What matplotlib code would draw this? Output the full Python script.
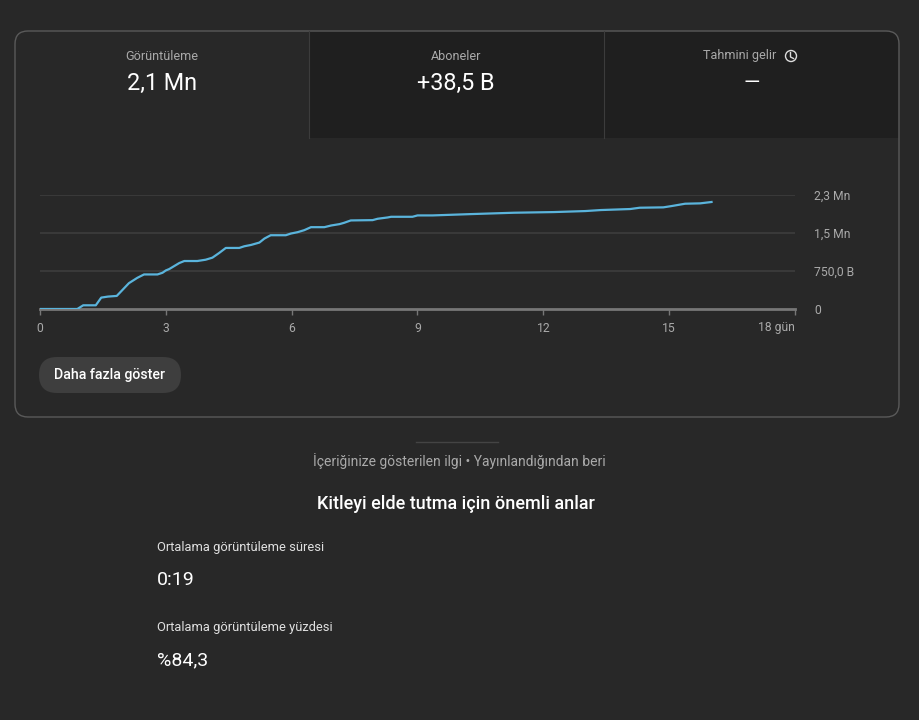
import matplotlib.pyplot as plt
from matplotlib.patches import FancyBboxPatch, Rectangle, Circle

plt.rcParams['font.family'] = ['Roboto', 'DejaVu Sans']

# Günlük kümülatif görüntüleme (bin)
gun = [0, 0.89, 1.03, 1.33, 1.46, 1.62, 1.83, 2.12, 2.32, 2.48, 2.8, 2.92, 3.0, 3.08,
       3.32, 3.44, 3.75, 3.95, 4.11, 4.27, 4.43, 4.75, 4.87, 5.03, 5.23, 5.35, 5.5,
       5.86, 5.98, 6.14, 6.3, 6.46, 6.78, 6.94, 7.14, 7.25, 7.41, 7.93, 8.05, 8.29,
       8.37, 8.88, 9.0, 9.36, 10.27, 11.3, 12.25, 13.0, 13.37, 14.07, 14.3, 14.86,
       15.06, 15.38, 15.74, 16.01]
goruntuleme = [0, 0, 73, 73, 225, 245, 258, 510, 615, 682, 682, 715, 761, 788,
               907, 947, 947, 973, 1013, 1105, 1205, 1205, 1238, 1264, 1311, 1390, 1456,
               1456, 1489, 1516, 1556, 1615, 1615, 1648, 1675, 1701, 1748, 1754, 1781, 1807,
               1820, 1820, 1847, 1847, 1873, 1900, 1913, 1933, 1953, 1973, 1999, 2006,
               2032, 2078, 2085, 2112]

x_ticks = [0, 3, 6, 9, 12, 15, 18]
x_labels = ['0', '3', '6', '9', '12', '15', '18 gün']
y_ticks = [0, 750, 1500, 2250]
y_labels = ['0', '750,0 B', '1,5 Mn', '2,3 Mn']

kart_basliklar = ['Görüntüleme', 'Aboneler', 'Tahmini gelir']
kart_degerler = ['2,1 Mn', '+38,5 B', '—']

BG = '#282828'
DARK = '#1f1f1f'
GRAY = '#aaaaaa'

fig = plt.figure(figsize=(9.2, 7.2), dpi=100, facecolor=BG)

# arka plan katmanı, piksel koordinatları
bg = fig.add_axes([0, 0, 1, 1])
bg.set_xlim(0, 920)
bg.set_ylim(720, 0)
bg.axis('off')

# koyu sekmeler
bg.add_patch(FancyBboxPatch((309, 31), 590, 107, boxstyle='round,pad=0,rounding_size=12',
                            facecolor=DARK, edgecolor='none'))
bg.add_patch(Rectangle((309, 60), 590, 78, facecolor=DARK, edgecolor='none'))
bg.add_patch(Rectangle((309, 31), 570, 40, facecolor=DARK, edgecolor='none'))
bg.plot([309, 309], [31, 138], color='#3c3c3c', lw=0.8)
bg.plot([604, 604], [31, 138], color='#3c3c3c', lw=0.8)

# kart çerçevesi
bg.add_patch(FancyBboxPatch((15, 31), 884, 386, boxstyle='round,pad=0,rounding_size=13',
                            facecolor='none', edgecolor='#5a5a5a', lw=1))

xs = [162, 456, 740]
for x, b in zip(xs, kart_basliklar):
    bg.text(x, 56, b, color=GRAY, fontsize=9.1, ha='center', va='center')
bg.text(162, 83, kart_degerler[0], color='white', fontsize=16.8, ha='center', va='center')
bg.text(456, 83, kart_degerler[1], color='white', fontsize=16.8, ha='center', va='center')
bg.text(752, 83, kart_degerler[2], color='white', fontsize=15, ha='center', va='center')

# saat simgesi
bg.add_patch(Circle((791, 56), 5.5, facecolor='none', edgecolor='#dddddd', lw=1))
bg.plot([790.5, 790.5, 793.5], [52.5, 57, 58.5], color='#dddddd', lw=1)

# buton
bg.add_patch(FancyBboxPatch((39, 357), 142, 36, boxstyle='round,pad=0,rounding_size=18',
                            facecolor='#3e3e3e', edgecolor='none'))
bg.text(110, 375.5, 'Daha fazla göster', color='white', fontsize=10.2, fontweight='medium',
        ha='center', va='center')

# alt bölüm
bg.plot([416, 498], [442, 442], color='#444444', lw=1)
bg.text(459, 461, 'İçeriğinize gösterilen ilgi • Yayınlandığından beri', color=GRAY,
        fontsize=10, ha='center', va='center')
bg.text(456, 504, 'Kitleyi elde tutma için önemli anlar', color='white', fontsize=13,
        fontweight='medium', ha='center', va='center')
bg.text(157, 548, 'Ortalama görüntüleme süresi', color='#e0e0e0', fontsize=9.3, ha='left', va='center')
bg.text(157, 580, '0:19', color='white', fontsize=14, ha='left', va='center')
bg.text(157, 628, 'Ortalama görüntüleme yüzdesi', color='#e0e0e0', fontsize=9.3, ha='left', va='center')
bg.text(157, 660, '%84,3', color='white', fontsize=14, ha='left', va='center')

# grafik
ax = fig.add_axes([40 / 920, (720 - 309) / 720, 755 / 920, 114 / 720])
ax.set_facecolor('none')
ax.plot(gun, goruntuleme, color='#5ab4dc', lw=1.6, zorder=3)
ax.set_xlim(0, 18)
ax.set_ylim(0, 2250)
for y in y_ticks[1:]:
    ax.axhline(y, color='#3a3a3a', lw=1.4, zorder=1)
ax.axhline(0, color='#777777', lw=2, zorder=2, clip_on=False)
for s in ax.spines.values():
    s.set_visible(False)
ax.set_xticks(x_ticks)
ax.set_xticklabels(x_labels)
ax.tick_params(axis='x', colors='#777777', labelcolor=GRAY, labelsize=8.7, length=4, width=1, pad=5)
ax.get_xticklabels()[-1].set_ha('right')
ax.yaxis.tick_right()
ax.set_yticks(y_ticks)
ax.set_yticklabels(y_labels)
ax.tick_params(axis='y', labelcolor=GRAY, labelsize=8.7, length=0, pad=14)

fig.savefig('out.png', dpi=100, facecolor=BG)
